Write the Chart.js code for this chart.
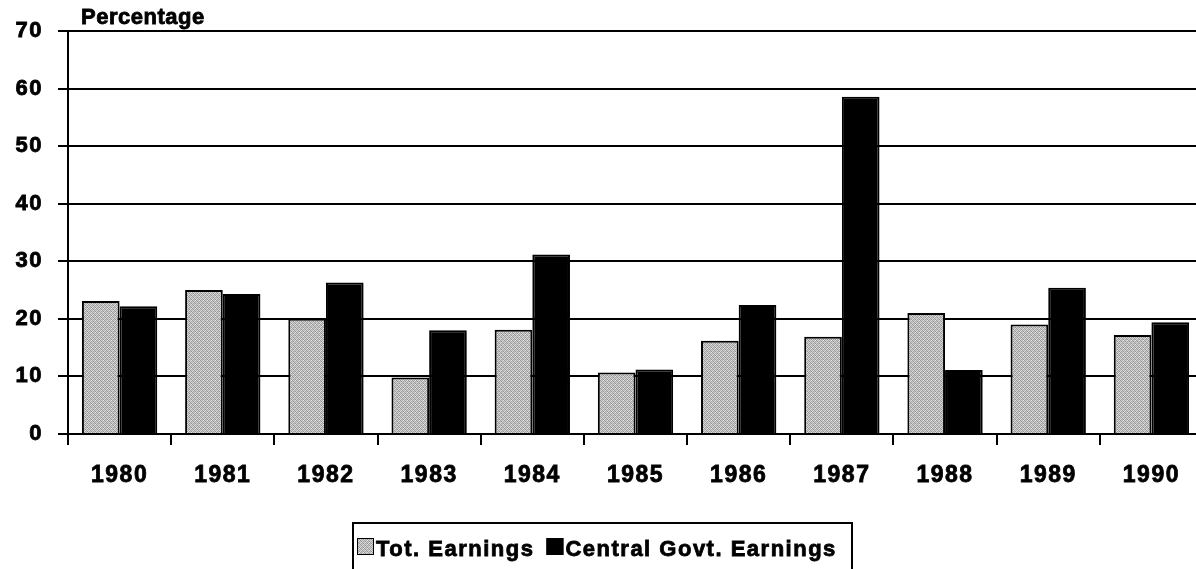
<!DOCTYPE html>
<html>
<head>
<meta charset="utf-8">
<script src="https://cdn.jsdelivr.net/npm/chart.js"></script>
<style>
  html, body { margin: 0; padding: 0; overflow: hidden; background: #fff; }
</style>
</head>
<body>
<canvas id="myChart" width="1203" height="569"></canvas>
<script>
// data
const years = ['1980', '1981', '1982', '1983', '1984', '1985', '1986', '1987', '1988', '1989', '1990'];
const totEarnings = [23.1, 25.0, 20.0, 9.8, 18.1, 10.7, 16.2, 16.9, 21.0, 19.0, 17.2];
const govEarnings = [22.2, 24.3, 26.3, 18.0, 31.2, 11.2, 22.4, 58.6, 11.1, 25.4, 19.4];
const seriesNames = ['Tot. Earnings', 'Central Govt. Earnings'];
const yMin = 0, yMax = 70, yStep = 10;
const yTitle = 'Percentage';

const FONT = '"Liberation Sans", Arial, sans-serif';

// stippled grey fill like the scan
function makeStipple() {
  const c = document.createElement('canvas');
  c.width = 4; c.height = 4;
  const g = c.getContext('2d');
  const cols = ['#9a9a9a', '#cfcfcf', '#b4b4b4', '#e2e2e2',
                '#c8c8c8', '#8e8e8e', '#dadada', '#a6a6a6',
                '#b8b8b8', '#e0e0e0', '#9c9c9c', '#cccccc',
                '#d6d6d6', '#a2a2a2', '#c4c4c4', '#949494'];
  for (let i = 0; i < 16; i++) {
    g.fillStyle = cols[i];
    g.fillRect(i % 4, Math.floor(i / 4), 1, 1);
  }
  return g.createPattern(c, 'repeat');
}

const ctx = document.getElementById('myChart');
const stipple = makeStipple();

const spacingPlugin = {
  id: 'spacing',
  beforeDraw(chart) {
    chart.ctx.letterSpacing = '1.5px';
  }
};

// heavier text, like the scan
function boldText(c, txt, x, y) {
  c.lineWidth = 0.8;
  c.strokeStyle = '#000';
  c.strokeText(txt, x, y);
  c.fillText(txt, x, y);
}

const extrasPlugin = {
  id: 'extras',
  afterDraw(chart) {
    const c = chart.ctx;
    const area = chart.chartArea;
    c.save();
    // axis title above the y axis
    c.letterSpacing = '0.5px';
    c.fillStyle = '#000';
    c.font = 'bold 22px ' + FONT;
    c.textAlign = 'left';
    c.textBaseline = 'alphabetic';
    boldText(c, yTitle, area.left + 13, 24);

    // legend in a box
    c.letterSpacing = '1.5px';
    c.lineWidth = 2;
    c.strokeStyle = '#000';
    c.beginPath();
    c.moveTo(353, 575);
    c.lineTo(353, 523);
    c.lineTo(852, 523);
    c.lineTo(852, 575);
    c.stroke();

    let x = 357;
    chart.data.datasets.forEach(ds => {
      c.fillStyle = ds.backgroundColor;
      c.fillRect(x, 538, 17, 17);
      c.lineWidth = 1;
      c.strokeStyle = '#000';
      c.strokeRect(x + 0.5, 538.5, 16, 16);
      c.fillStyle = '#000';
      boldText(c, ds.label, x + 19, 556);
      x += 19 + c.measureText(ds.label).width + 12;
    });
    c.restore();
  }
};

new Chart(ctx, {
  type: 'bar',
  data: {
    labels: years,
    datasets: [{
      label: seriesNames[0],
      data: totEarnings,
      backgroundColor: stipple,
      borderColor: '#000',
      borderWidth: 2
    }, {
      label: seriesNames[1],
      data: govEarnings,
      backgroundColor: '#000',
      borderColor: '#000',
      borderWidth: 2
    }]
  },
  options: {
    responsive: false,
    animation: false,
    events: [],
    layout: { padding: { top: 31, right: 0, bottom: 0, left: 0 } },
    datasets: {
      bar: { categoryPercentage: 0.73, barPercentage: 1.0 }
    },
    plugins: {
      legend: { display: false },
      tooltip: { enabled: false }
    },
    scales: {
      x: {
        afterFit(scale) { scale.height = 135; },
        grid: {
          offset: true,
          drawOnChartArea: false,
          drawTicks: true,
          tickLength: 11,
          color: '#000',
          lineWidth: 2
        },
        border: { display: true, color: '#000', width: 2 },
        ticks: {
          color: '#000',
          padding: 17,
          textStrokeColor: '#000',
          textStrokeWidth: 0.8,
          font: { family: FONT, size: 23, weight: 'bold' }
        }
      },
      y: {
        min: yMin,
        max: yMax,
        afterFit(scale) { scale.width = 68; },
        grid: {
          color: '#000',
          lineWidth: 2,
          tickLength: 10
        },
        border: { display: true, color: '#000', width: 2 },
        ticks: {
          stepSize: yStep,
          color: '#000',
          padding: 15,
          textStrokeColor: '#000',
          textStrokeWidth: 0.8,
          font: { family: FONT, size: 22, weight: 'bold' }
        }
      }
    }
  },
  plugins: [spacingPlugin, extrasPlugin]
});
</script>
</body>
</html>
